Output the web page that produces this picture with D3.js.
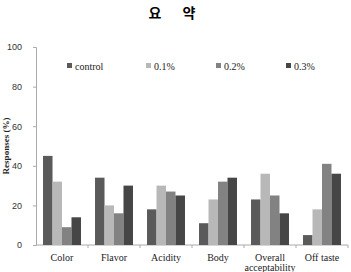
<!DOCTYPE html>
<html><head><meta charset="utf-8">
<script src="https://cdn.jsdelivr.net/npm/d3@7"></script>
<style>body{margin:0;background:#fff} .serif{font-family:"Liberation Serif","DejaVu Serif",serif}</style>
</head><body><svg id="c" width="351" height="272"></svg>
<script>
const categories = ["Color","Flavor","Acidity","Body","Overall\nacceptability","Off taste"];
const seriesNames = ["control","0.1%","0.2%","0.3%"];
const control = [45,34,18,11,23,5];
const p01 = [32,20,30,23,36,18];
const p02 = [9,16,27,32,25,41];
const p03 = [14,30,25,34,16,36];
const yTicks = [0,20,40,60,80,100];
const seriesValues = [control,p01,p02,p03];
const colors = ["#5a5a5a","#b8b8b8","#828282","#464646"];

const svg = d3.select("#c");
const m = {l:36,r:3,t:47,b:27};
const W = 351, H = 272;
const x = d3.scaleBand().domain(categories).range([m.l, W-m.r]).paddingInner(0.27).paddingOuter(0.135);
const xs = d3.scaleBand().domain(seriesNames).range([0, x.bandwidth()]);
const y = d3.scaleLinear().domain([0,100]).range([H-m.b, m.t]);

// title
[["요",155],["약",189]].forEach(([t,cx])=>{
  svg.append("text").attr("x",cx).attr("y",18).attr("text-anchor","middle")
    .attr("font-family","Noto Sans CJK KR").attr("font-weight","bold").attr("font-size",14).text(t);
});

// y axis
const ya = svg.append("g").attr("transform",`translate(${m.l},0)`)
  .call(d3.axisLeft(y).tickValues(yTicks).tickSize(3).tickPadding(11));
ya.select(".domain").attr("stroke","#aaa");
ya.selectAll(".tick line").attr("stroke","#aaa");
ya.selectAll("text").attr("font-family","Liberation Sans").attr("font-size",9).attr("fill","#333");

// x axis
const xa = svg.append("g");
xa.append("line").attr("x1",m.l).attr("x2",W-m.r).attr("y1",y(0)).attr("y2",y(0)).attr("stroke","#aaa");
const edges = d3.range(1,categories.length+1).map(i=> i<categories.length ? (x(categories[i-1]) + x.bandwidth() + x(categories[i]))/2 : W-m.r);
edges.forEach(e=>{
  xa.append("line").attr("x1",e).attr("x2",e).attr("y1",y(0)).attr("y2",y(0)+3).attr("stroke","#aaa");
});

// bars
seriesValues.forEach((vals,si)=>{
  svg.append("g").selectAll("rect").data(vals).join("rect")
    .attr("x",(d,i)=>x(categories[i])+xs(seriesNames[si]))
    .attr("width",xs.bandwidth())
    .attr("y",d=>y(d)).attr("height",d=>y(0)-y(d))
    .attr("fill",colors[si]);
});

// x labels
categories.forEach(c=>{
  const lines = c.split("\n");
  const t = svg.append("text").attr("class","serif").attr("text-anchor","middle")
    .attr("font-size",10).attr("fill","#222");
  lines.forEach((l,j)=>{
    t.append("tspan").attr("x",x(c)+x.bandwidth()/2).attr("y",y(0)+16+j*10).text(l);
  });
});

// y label
svg.append("text").attr("class","serif").attr("transform",`translate(9,${(y(0)+y(100))/2}) rotate(-90)`)
  .attr("text-anchor","middle").attr("font-weight","bold")
  .attr("font-size",9).attr("fill","#222").text("Responses (%)");

// legend
const legX = [67,146,216,286];
seriesNames.forEach((n,i)=>{
  svg.append("rect").attr("x",legX[i]).attr("y",63).attr("width",5).attr("height",5).attr("fill",colors[i]);
  svg.append("text").attr("class","serif").attr("x",legX[i]+8).attr("y",70)
    .attr("font-size",10).attr("fill","#222").text(n);
});
</script></body></html>
